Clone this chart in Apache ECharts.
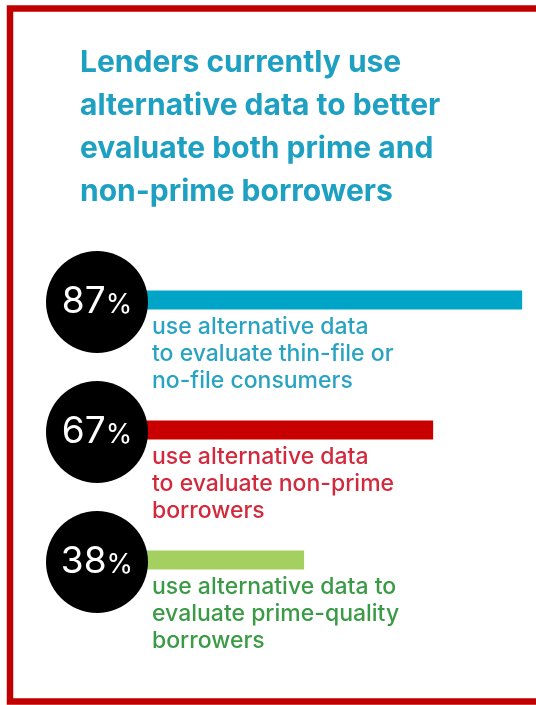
<!DOCTYPE html>
<html>
<head>
<meta charset="utf-8">
<style>
  html, body { margin: 0; padding: 0; background: #ffffff; }
  #chart { width: 536px; height: 705px; }
</style>
<script src="https://cdn.jsdelivr.net/npm/echarts@6/dist/echarts.min.js"></script>
</head>
<body>
<div id="chart"></div>
<script>
const titleText = 'Lenders currently use\nalternative data to better\nevaluate both prime and\nnon-prime borrowers';
const categories = ['Thin-file / no-file consumers', 'Non-prime borrowers', 'Prime-quality borrowers'];
const values = [87, 67, 38];
const descriptions = [
  'use alternative data\nto evaluate thin-file or\nno-file consumers',
  'use alternative data\nto evaluate non-prime\nborrowers',
  'use alternative data to\nevaluate prime-quality\nborrowers'
];
const barColors = ['#00a4c7', '#c90000', '#a4d062'];
const textColors = ['#2aa3c2', '#d22a3c', '#3b9a45'];

const chart = echarts.init(document.getElementById('chart'), null, { renderer: 'canvas' });

const option = {
  backgroundColor: '#ffffff',
  animation: false,
  title: {
    text: titleText,
    left: 80,
    top: 41,
    padding: 0,
    textStyle: {
      fontFamily: 'Inter',
      fontWeight: 'bold',
      fontSize: 30,
      lineHeight: 43,
      color: '#1ea0c2'
    }
  },
  graphic: [{
    type: 'rect',
    silent: true,
    shape: { x: 10, y: 8.5, width: 600, height: 693 },
    style: { fill: 'none', stroke: '#c00000', lineWidth: 6.5 }
  }],
  grid: { left: 90.5, top: 235, right: 0.5, height: 390 },
  xAxis: { type: 'value', min: -10, max: 90, show: false },
  yAxis: { type: 'category', data: categories, inverse: true, show: false },
  series: [
    {
      type: 'bar',
      barWidth: 19,
      z: 2,
      data: values.map((v, i) => ({
        value: v,
        itemStyle: { color: barColors[i] },
        label: {
          show: true,
          position: [17, 23],
          formatter: descriptions[i],
          fontFamily: 'Inter',
          fontWeight: 500,
          fontSize: 23,
          lineHeight: 27,
          color: textColors[i],
          align: 'left',
          verticalAlign: 'top'
        }
      }))
    },
    {
      type: 'scatter',
      z: 5,
      symbol: 'circle',
      symbolSize: 102,
      symbolOffset: [-38, 2],
      itemStyle: { color: '#000000', opacity: 1 },
      data: values.map((v, i) => [0, i, v]),
      label: {
        show: true,
        position: 'inside',
        overflow: 'none',
        formatter: p => '{n|' + p.value[2] + '}{p|%}',
        rich: {
          n: { fontFamily: 'Inter', fontSize: 37, color: '#ffffff' },
          p: { fontFamily: 'Inter', fontSize: 27, color: '#ffffff', padding: [6, 0, 0, 0] }
        }
      }
    }
  ]
};
chart.setOption(option);
</script>
</body>
</html>
